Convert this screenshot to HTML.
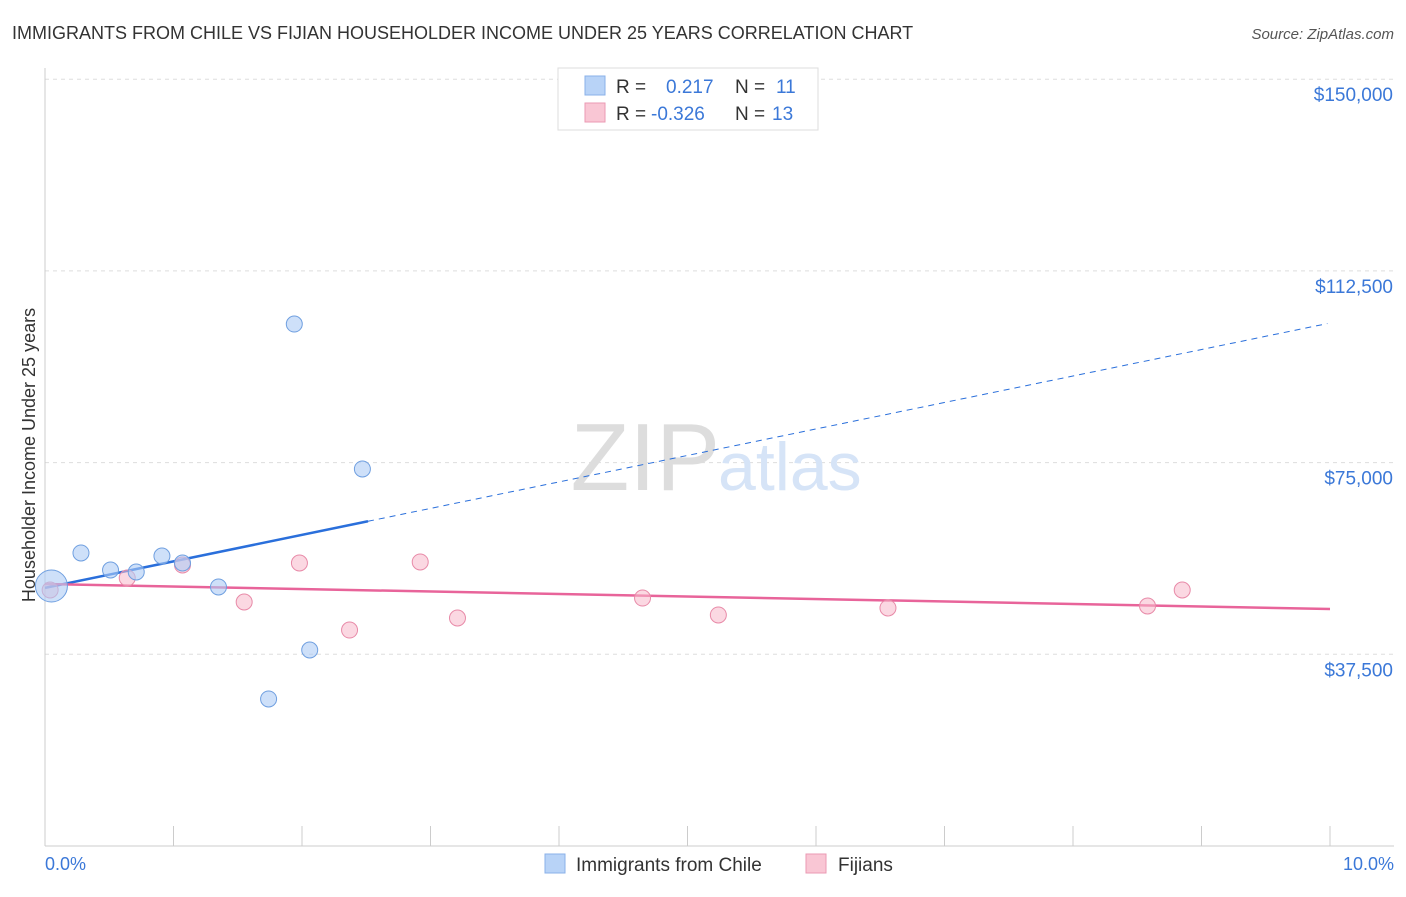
<!DOCTYPE html>
<html><head><meta charset="utf-8"><style>
body{margin:0;background:#fff;font-family:"Liberation Sans",sans-serif;}
svg text{font-family:"Liberation Sans",sans-serif;}
</style></head><body>
<svg width="1406" height="892" xmlns="http://www.w3.org/2000/svg">
<text x="12" y="39" font-size="18" fill="#333">IMMIGRANTS FROM CHILE VS FIJIAN HOUSEHOLDER INCOME UNDER 25 YEARS CORRELATION CHART</text>
<text x="1394" y="39" font-size="15" fill="#555" font-style="italic" text-anchor="end">Source: ZipAtlas.com</text>
<g id="grid"></g>
<g id="ticks"></g>
<g id="xticks"></g>
<text x="720" y="490" font-size="96" fill="#ddd" text-anchor="end" font-family="Liberation Serif">ZIP</text>
<text x="718" y="490" font-size="68" fill="#d6e4f7">atlas</text>
<line x1="45" y1="68" x2="45" y2="846" stroke="#ccc"/>
<line x1="45" y1="846" x2="1394" y2="846" stroke="#ccc"/>
<text x="35" y="455" font-size="18" fill="#333" text-anchor="middle" transform="rotate(-90 35 455)">Householder Income Under 25 years</text>
<text x="45" y="870" font-size="18" fill="#3b78d8">0.0%</text>
<text x="1394" y="870" font-size="18" fill="#3b78d8" text-anchor="end">10.0%</text>
<g id="lines"></g>
<g id="pts"></g>
<g>
<rect x="558" y="68" width="260" height="62" fill="#fff" stroke="#ddd"/>
<rect x="585" y="76" width="20" height="19" fill="#b8d3f7" stroke="#8ab0e8"/>
<rect x="585" y="103" width="20" height="19" fill="#f9c6d4" stroke="#eb9ab3"/>
<text x="616" y="93" font-size="19" fill="#333">R = <tspan fill="#3b78d8" x="666">0.217</tspan><tspan x="735" fill="#333">N = </tspan><tspan fill="#3b78d8" x="776">11</tspan></text>
<text x="616" y="120" font-size="19" fill="#333">R = <tspan fill="#3b78d8" x="651">-0.326</tspan><tspan x="735" fill="#333">N = </tspan><tspan fill="#3b78d8" x="772">13</tspan></text>
</g>
<g>
<rect x="545" y="854" width="20" height="19" fill="#b8d3f7" stroke="#8ab0e8"/>
<text x="576" y="871" font-size="19" fill="#333">Immigrants from Chile</text>
<rect x="806" y="854" width="20" height="19" fill="#f9c6d4" stroke="#eb9ab3"/>
<text x="838" y="871" font-size="19" fill="#333">Fijians</text>
</g>
</svg>
<script>
const yTicks=[37500,75000,112500,150000];
const yTickLabels=["$37,500","$75,000","$112,500","$150,000"];
const xTicks=[0,1,2,3,4,5,6,7,8,9,10];
const chileX=[0.05,0.28,0.51,0.71,0.91,1.07,1.35,1.94,2.06,1.74,2.47];
const chileY=[50860,57320,53990,53600,56730,55360,50670,102110,38340,28760,73750];
const chileR=[16,8,8,8,8,8,8,8,8,8,8];
const fijiX=[0.04,0.64,1.07,1.55,1.98,2.37,2.92,3.21,4.65,5.24,6.56,8.58,8.85];
const fijiY=[50080,52430,54970,47730,55360,42250,55560,44600,48510,45190,46560,46950,50080];
const chileTrend=[50500,102300];
const fijiTrend=[51250,46360];
const NS="http://www.w3.org/2000/svg";
const xs=v=>45+v*128.5;
const ys=v=>846-v/37500*191.7;
function mk(tag,attrs,parent){const e=document.createElementNS(NS,tag);for(const k in attrs)e.setAttribute(k,attrs[k]);document.getElementById(parent).appendChild(e);return e;}
yTicks.forEach((t,i)=>{
 const l=mk('line',{x1:45,x2:1394,y1:ys(t),y2:ys(t),stroke:'#ddd','stroke-dasharray':'4,4'},'grid');
 
 
 const tx=mk('text',{x:1393,y:ys(t)+22,'font-size':19,fill:'#3b78d8','text-anchor':'end'},'ticks');
 tx.textContent=yTickLabels[i];
 
 
});
xTicks.forEach(t=>{
 const l=mk('line',{x1:xs(t),x2:xs(t),y1:826,y2:846,stroke:'#ccc'},'xticks');
 
 
});
// trend lines
const xEnd=368;const tEnd=(xEnd-45)/128.5;
const cy=x=>chileTrend[0]+(chileTrend[1]-chileTrend[0])*x/10;
let a=mk('line',{x1:xs(0),y1:ys(cy(0)),x2:xs(tEnd),y2:ys(cy(tEnd)),stroke:'#2a6fdb','stroke-width':2.5},'lines');


a=mk('line',{x1:xs(tEnd),y1:ys(cy(tEnd)),x2:xs(9.98),y2:ys(cy(9.98)),stroke:'#2a6fdb','stroke-width':1,'stroke-dasharray':'6,5'},'lines');


a=mk('line',{x1:xs(0),y1:ys(fijiTrend[0]),x2:xs(10),y2:ys(fijiTrend[1]),stroke:'#e8649a','stroke-width':2.5},'lines');


fijiX.forEach((x,i)=>{
 const c=mk('circle',{cx:xs(x),cy:ys(fijiY[i]),r:8,fill:'#f7b8cb','fill-opacity':0.55,stroke:'#e88aa8','stroke-width':1},'pts');
 
 
});
chileX.forEach((x,i)=>{
 const c=mk('circle',{cx:xs(x),cy:ys(chileY[i]),r:chileR[i],fill:'#aecbf5','fill-opacity':0.6,stroke:'#6f9fe0','stroke-width':1},'pts');
 
 
});
</script>
</body></html>
